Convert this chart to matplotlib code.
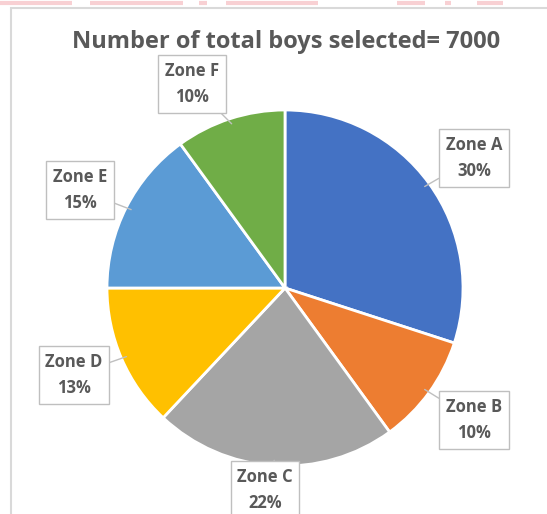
import numpy as np
import matplotlib.pyplot as plt
from matplotlib.patches import Rectangle

zones = ['Zone A', 'Zone B', 'Zone C', 'Zone D', 'Zone E', 'Zone F']
shares = [30, 10, 22, 13, 15, 10]
colors = ['#4472C4', '#ED7D31', '#A5A5A5', '#FFC000', '#5B9BD5', '#70AD47']
title = 'Number of total boys selected= 7000'

W, H = 547, 514
# label box centres (pixel coords, y from top)
label_pos = [(474, 158), (474, 420), (265, 490), (74, 375), (80, 190), (192, 84)]

fig = plt.figure(figsize=(W / 100, H / 100), dpi=100)
ax = fig.add_axes([0, 0, 1, 1])

# chart frame + pink strip on top (screenshot edges)
ax.add_patch(Rectangle((11, -10), W, H - 8 + 10, fill=False, edgecolor='#D9D9D9', lw=1.5))
ax.plot([0, 72, None, 90, 183, None, 199, 207, None, 226, 318, None, 397, 425, None, 445, 451, None, 477, 503],
        [H - 3] * 20, color='#F8D0D3', lw=3, solid_capstyle='butt')

cx, cy, r = 285, H - 288, 178
wedges, _ = ax.pie(shares, colors=colors, startangle=90, counterclock=False,
                   center=(cx, cy), radius=r, frame=True,
                   wedgeprops=dict(edgecolor='white', linewidth=2))
ax.set_xlim(0, W)
ax.set_ylim(0, H)
ax.set_aspect('equal')
ax.axis('off')

ang = 90.0
for zone, s, (lx, ly) in zip(zones, shares, label_pos):
    mid = np.deg2rad(ang - s * 3.6 / 2)
    ang -= s * 3.6
    px, py = cx + 0.97 * r * np.cos(mid), cy + 0.97 * r * np.sin(mid)
    ax.annotate(f'{zone}\n{s}%', xy=(px, py), xytext=(lx, H - ly),
                ha='center', va='center', fontsize=12, fontweight='bold',
                color='#595959', family='Open Sans', linespacing=1.6,
                bbox=dict(boxstyle='square,pad=0.4', fc='white', ec='#BFBFBF', lw=1),
                arrowprops=dict(arrowstyle='-', color='#BFBFBF', lw=1, shrinkA=0, shrinkB=0))

ax.text(286, H - 42, title, ha='center', va='center', fontsize=17,
        fontweight='bold', color='#595959', family='Open Sans')

fig.savefig('out.png', dpi=100)
